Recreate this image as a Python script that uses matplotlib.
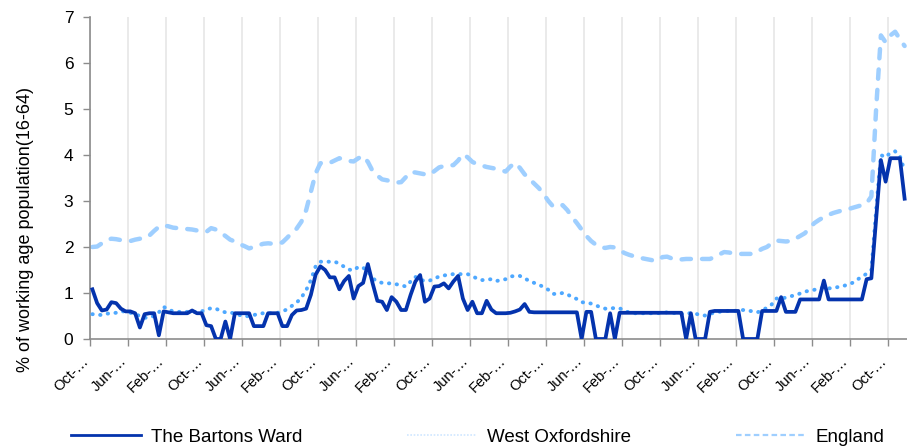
import numpy as np
import matplotlib
matplotlib.use('Agg')
import matplotlib.pyplot as plt
import matplotlib.transforms as mtransforms
from matplotlib.lines import Line2D

plt.rcParams['font.family'] = ['Liberation Sans', 'DejaVu Sans']

# monthly claimant rate, % of working age population (16-64)
bartons = [
    1.08, 0.78, 0.62, 0.64, 0.80, 0.78, 0.66, 0.60, 0.60, 0.56,
    0.25, 0.54, 0.56, 0.56, 0.08, 0.60, 0.58, 0.56, 0.56, 0.56,
    0.56, 0.62, 0.56, 0.56, 0.30, 0.28, 0.00, 0.00, 0.38, 0.00,
    0.56, 0.56, 0.56, 0.56, 0.28, 0.28, 0.28, 0.56, 0.56, 0.56,
    0.28, 0.28, 0.52, 0.62, 0.63, 0.66, 0.96, 1.40, 1.58, 1.50,
    1.34, 1.34, 1.08, 1.26, 1.37, 0.88, 1.15, 1.22, 1.63, 1.21,
    0.83, 0.81, 0.63, 0.91, 0.81, 0.63, 0.63, 0.96, 1.25, 1.39,
    0.81, 0.88, 1.14, 1.15, 1.21, 1.10, 1.25, 1.37, 0.88, 0.63,
    0.81, 0.56, 0.56, 0.83, 0.64, 0.56, 0.56, 0.56, 0.57, 0.60,
    0.64, 0.76, 0.59, 0.58, 0.58, 0.58, 0.58, 0.58, 0.58, 0.58,
    0.58, 0.58, 0.58, 0.00, 0.59, 0.59, 0.00, 0.00, 0.00, 0.56,
    0.00, 0.57, 0.57, 0.57, 0.57, 0.57, 0.57, 0.57, 0.57, 0.57,
    0.57, 0.57, 0.57, 0.57, 0.57, 0.00, 0.56, 0.00, 0.00, 0.00,
    0.59, 0.61, 0.61, 0.61, 0.61, 0.61, 0.61, 0.00, 0.00, 0.00,
    0.00, 0.61, 0.61, 0.61, 0.61, 0.91, 0.59, 0.59, 0.59, 0.86,
    0.86, 0.86, 0.86, 0.86, 1.27, 0.86, 0.86, 0.86, 0.86, 0.86,
    0.86, 0.86, 0.86, 1.30, 1.32, 2.60, 3.89, 3.42, 3.93, 3.93,
    3.93, 3.05]

west_oxon = [
    0.54, 0.53, 0.52, 0.55, 0.56, 0.57, 0.60, 0.60, 0.57, 0.54,
    0.50, 0.46, 0.47, 0.50, 0.58, 0.70, 0.64, 0.60, 0.59, 0.59,
    0.59, 0.59, 0.59, 0.60, 0.64, 0.67, 0.66, 0.61, 0.58, 0.58,
    0.55, 0.52, 0.49, 0.50, 0.52, 0.55, 0.56, 0.56, 0.56, 0.57,
    0.59, 0.65, 0.72, 0.79, 0.90, 1.06, 1.28, 1.58, 1.68, 1.68,
    1.68, 1.68, 1.64, 1.57, 1.51, 1.49, 1.57, 1.55, 1.47, 1.32,
    1.25, 1.22, 1.21, 1.21, 1.19, 1.17, 1.14, 1.25, 1.35, 1.29,
    1.26, 1.27, 1.31, 1.36, 1.38, 1.40, 1.41, 1.41, 1.41, 1.41,
    1.37, 1.31, 1.28, 1.29, 1.30, 1.26, 1.28, 1.30, 1.36, 1.37,
    1.37, 1.32, 1.26, 1.22, 1.18, 1.13, 1.07, 0.98, 0.98, 1.00,
    0.97, 0.91, 0.87, 0.80, 0.79, 0.77, 0.73, 0.69, 0.66, 0.67,
    0.67, 0.67, 0.61, 0.58, 0.56, 0.56, 0.56, 0.56, 0.56, 0.56,
    0.57, 0.58, 0.57, 0.56, 0.54, 0.56, 0.56, 0.55, 0.52, 0.51,
    0.55, 0.57, 0.59, 0.61, 0.61, 0.61, 0.62, 0.63, 0.62, 0.60,
    0.58, 0.62, 0.68, 0.75, 0.88, 0.88, 0.90, 0.93, 0.95, 0.99,
    1.03, 1.05, 1.07, 1.10, 1.12, 1.10, 1.11, 1.13, 1.15, 1.18,
    1.22, 1.29, 1.35, 1.42, 1.50, 2.80, 4.00, 3.95, 4.05, 4.08,
    3.98, 3.65]

england = [
    2.00, 2.01, 2.08, 2.15, 2.18, 2.17, 2.15, 2.14, 2.13, 2.16,
    2.18, 2.19, 2.25, 2.35, 2.44, 2.47, 2.45, 2.42, 2.41, 2.40,
    2.39, 2.38, 2.36, 2.34, 2.33, 2.41, 2.38, 2.31, 2.24, 2.16,
    2.12, 2.06, 2.02, 1.97, 2.00, 2.04, 2.07, 2.08, 2.07, 2.07,
    2.10, 2.20, 2.31, 2.40, 2.55, 2.80, 3.20, 3.60, 3.82, 3.85,
    3.83, 3.88, 3.93, 3.90, 3.87, 3.86, 3.93, 3.98, 3.85, 3.65,
    3.55, 3.47, 3.45, 3.43, 3.40, 3.41, 3.52, 3.63, 3.62, 3.60,
    3.58, 3.57, 3.65, 3.73, 3.76, 3.77, 3.78, 3.88, 4.02, 3.95,
    3.85, 3.80, 3.77, 3.74, 3.72, 3.70, 3.67, 3.64, 3.75, 3.83,
    3.72, 3.58, 3.48, 3.38, 3.28, 3.15, 3.00, 2.88, 2.88, 2.91,
    2.80, 2.65, 2.52, 2.38, 2.24, 2.13, 2.05, 1.99, 1.98, 2.00,
    1.99, 1.93, 1.87, 1.83, 1.80, 1.77, 1.75, 1.73, 1.71, 1.70,
    1.78, 1.79, 1.75, 1.72, 1.73, 1.74, 1.74, 1.74, 1.74, 1.74,
    1.74, 1.78, 1.84, 1.89, 1.88, 1.86, 1.85, 1.85, 1.85, 1.85,
    1.90, 1.96, 2.00, 2.08, 2.14, 2.13, 2.12, 2.13, 2.18, 2.24,
    2.30, 2.42, 2.52, 2.59, 2.65, 2.70, 2.74, 2.77, 2.80, 2.82,
    2.85, 2.88, 2.91, 2.95, 3.10, 5.00, 6.60, 6.45, 6.60, 6.68,
    6.52, 6.37]

tick_labels = ['Oct-…', 'Jun-…', 'Feb-…'] * 7 + ['Oct-…']
series_names = ['The Bartons Ward', 'West Oxfordshire', 'England']

dark = '#0433ad'
mid = '#4ea8ff'
light = '#9fcfff'

n = len(bartons)
x = np.arange(n)
ticks = np.arange(-0.5, n - 1, 8)

fig = plt.figure(figsize=(9.07, 4.48), dpi=100)
ax = fig.add_axes([90/907, 109/448, 817/907, 322/448])

ax.plot(x, england, color=light, lw=3.2, linestyle=(0, (2.1, 2.5)),
        dash_capstyle='round', zorder=2)
ax.plot(x, west_oxon, color=mid, lw=2.8, linestyle=(0, (0.1, 1.9)),
        dash_capstyle='round', zorder=3)
ax.plot(x, bartons, color=dark, lw=2.7, zorder=4)

ax.set_xlim(-0.5, n - 0.5)
ax.set_ylim(0, 7)
ax.set_yticks(range(0, 8))
ax.set_xticks(ticks)
ax.set_xticklabels([])
ax.tick_params(axis='y', labelsize=12.5, length=5, width=1, color='#8c8c8c', pad=7)
ax.tick_params(axis='x', length=5, width=1, color='#8c8c8c')

# rotated category labels, drawn as text below each tick
shift = mtransforms.ScaledTranslation(-9/100, -15/100, fig.dpi_scale_trans)
for t, lab in zip(ticks, tick_labels):
    ax.text(t, 0, lab, transform=ax.get_xaxis_transform() + shift,
            rotation=45, ha='right', va='top', rotation_mode='anchor',
            fontsize=10.5)

ax.grid(axis='x', color='#e8e8e8', lw=1.3)
ax.set_axisbelow(True)
for s in ['top', 'right']:
    ax.spines[s].set_visible(False)
for s in ['left', 'bottom']:
    ax.spines[s].set_color('#8c8c8c')
    ax.spines[s].set_linewidth(1.2)

fig.text(26/907, 1 - 230/448, '% of working age population(16-64)',
         rotation=90, ha='center', va='center', fontsize=13)

handles = [Line2D([], [], color=dark, lw=2),
           Line2D([], [], color='#cfe6ff', lw=1.2, linestyle=(0, (1, 1))),
           Line2D([], [], color=light, lw=1.6, linestyle=(0, (2.5, 1.5)))]
fig.legend(handles, series_names, loc='center', bbox_to_anchor=(478/907, 1 - 437/448),
           ncol=3, frameon=False, fontsize=13.5, handlelength=3.7,
           handletextpad=0.55, columnspacing=5.6)

fig.savefig('out.png', dpi=100)
